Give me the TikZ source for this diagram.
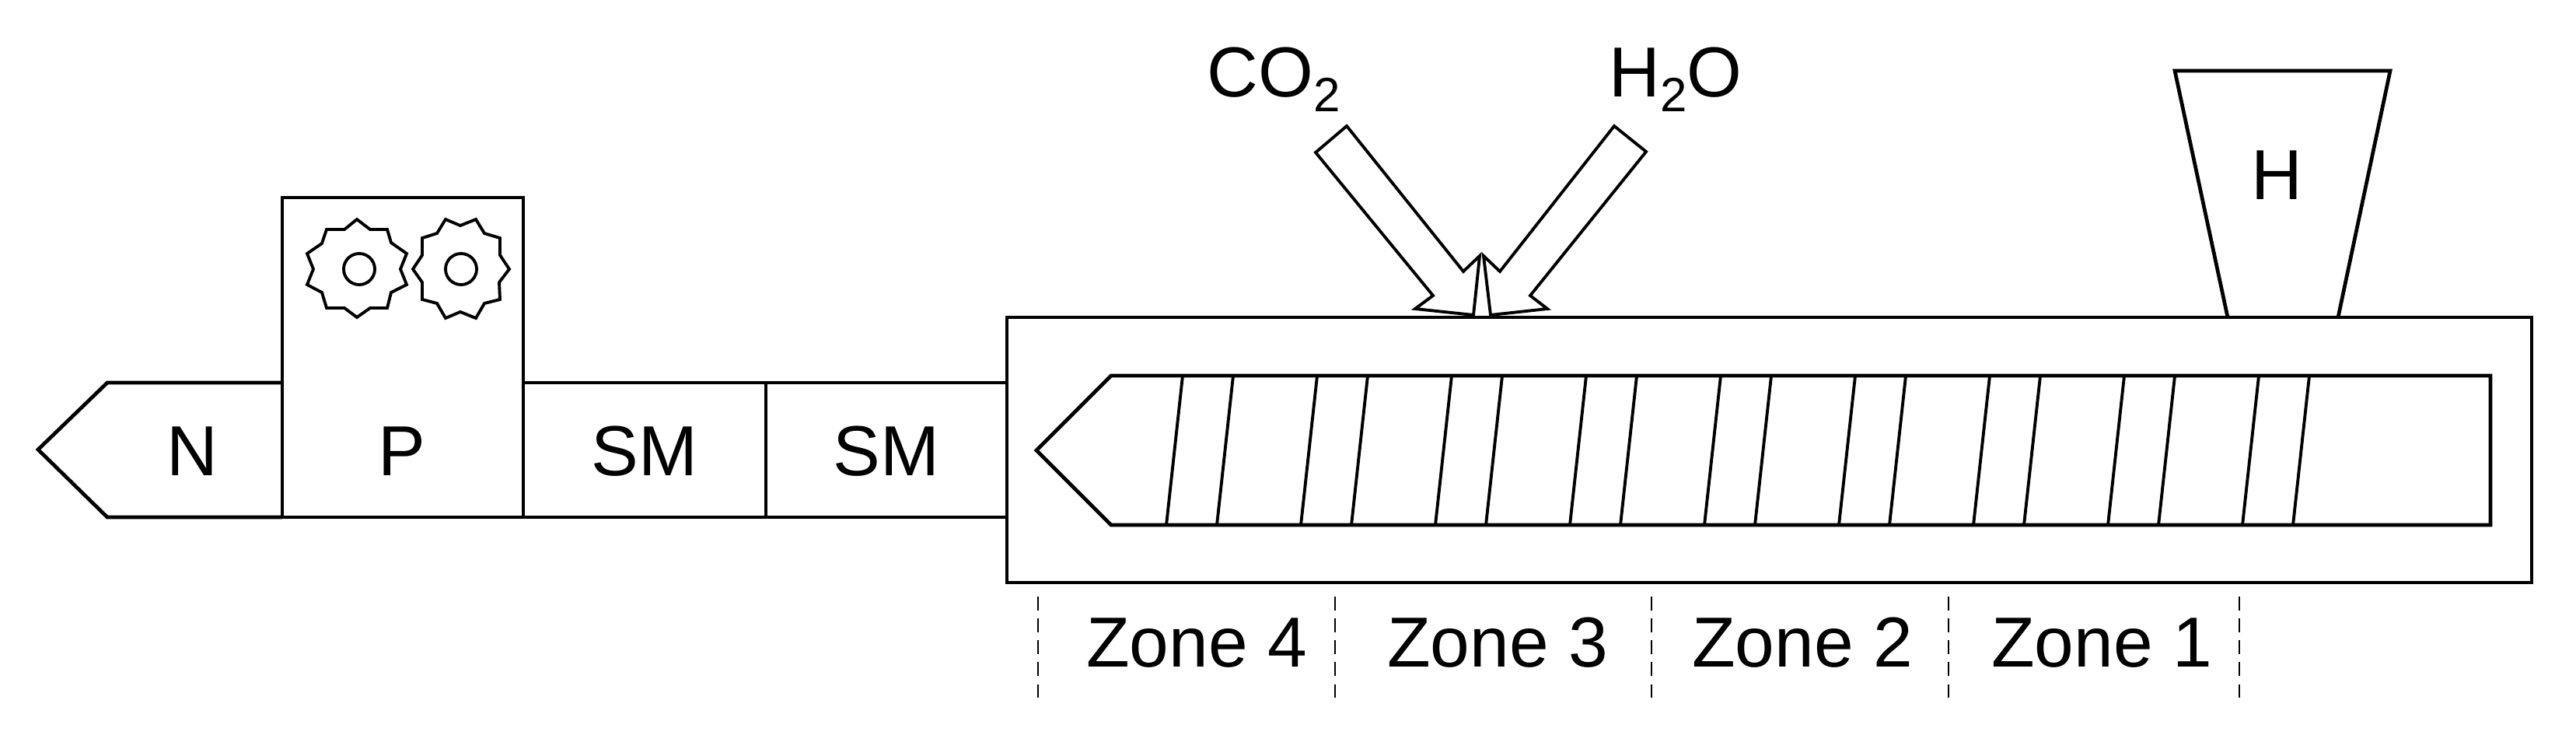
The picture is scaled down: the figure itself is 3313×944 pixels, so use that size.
\documentclass[tikz,border=0pt]{standalone}
\usepackage{fontspec}
\setmainfont{Liberation Sans}
\newcommand{\lowtwo}{\raisebox{-0.19cm}{\fontsize{17.6}{20}\selectfont 2}}
\tikzset{
    part/.style={line width=1.35pt, line join=miter},
    thin part/.style={line width=1.1pt, line join=miter},
    zone line/.style={line width=0.55pt, dash pattern=on 5pt off 3pt},
    caption/.style={anchor=base, inner sep=0, font=\fontsize{25.9}{30}\selectfont},
}

\begin{document}
\begin{tikzpicture}[x=0.01cm, y=-0.01cm]
    \useasboundingbox (0, 0) rectangle (3313, 944);
    \draw[part] (363, 492) -- (138, 492) -- (49, 578) -- (138, 665) -- (363, 665);
    \draw[part] (363, 254) rectangle (673, 665);
    \draw[part] (673, 492) rectangle (985, 665);
    \draw[part] (985, 492) rectangle (1295, 665);
    \node[caption] (nozzle) at (247, 611) {N};
    \node[caption] (pump) at (517, 611) {P};
    \node[caption] (mixer2) at (829, 611) {SM};
    \node[caption] (mixer1) at (1140, 611) {SM};
    \draw[thin part] (459, 282) -- (476, 295) -- (498, 295) -- (503, 312) -- (523, 326) -- (515, 346) -- (523, 366) -- (503, 376) -- (498, 396) -- (476, 396) -- (459, 408) -- (443, 396) -- (420, 396) -- (414, 376) -- (395, 366) -- (403, 346) -- (395, 326) -- (414, 313) -- (420, 295) -- (443, 295) -- cycle;
    \draw[thin part] (573, 282) -- (592, 290) -- (612, 282) -- (623, 300) -- (643, 306) -- (643, 328) -- (655, 346) -- (642, 363) -- (643, 385) -- (623, 390) -- (612, 409) -- (592, 401) -- (573, 409) -- (562, 390) -- (543, 385) -- (543, 363) -- (531, 346) -- (543, 328) -- (543, 306) -- (562, 300) -- cycle;
    \draw[thin part] (462, 346) circle (0.2cm);
    \draw[thin part] (593, 346) circle (0.2cm);
    \draw[part] (1295, 408) rectangle (3256, 749);
    \draw[part] (3203, 483) -- (1429, 483) -- (1333, 579) -- (1429, 675) -- (3203, 675) -- cycle;
    \draw[thin part] (1521, 483) -- (1500, 675);
    \draw[thin part] (1586, 483) -- (1565, 675);
    \draw[thin part] (1694, 483) -- (1673, 675);
    \draw[thin part] (1759, 483) -- (1738, 675);
    \draw[thin part] (1867, 483) -- (1846, 675);
    \draw[thin part] (1932, 483) -- (1911, 675);
    \draw[thin part] (2040, 483) -- (2019, 675);
    \draw[thin part] (2105, 483) -- (2084, 675);
    \draw[thin part] (2213, 483) -- (2192, 675);
    \draw[thin part] (2278, 483) -- (2257, 675);
    \draw[thin part] (2386, 483) -- (2365, 675);
    \draw[thin part] (2451, 483) -- (2430, 675);
    \draw[thin part] (2559, 483) -- (2538, 675);
    \draw[thin part] (2624, 483) -- (2603, 675);
    \draw[thin part] (2732, 483) -- (2711, 675);
    \draw[thin part] (2797, 483) -- (2776, 675);
    \draw[thin part] (2905, 483) -- (2884, 675);
    \draw[thin part] (2970, 483) -- (2949, 675);
    \draw[part] (2865, 408) -- (2797, 91) -- (3074, 91) -- (3007, 408);
    \node[caption] (hopper) at (2928, 256) {H};
    \draw[thin part] (1732, 162) -- (1882, 349) -- (1903, 329) -- (1895, 405) -- (1820, 397) -- (1843, 380) -- (1692, 196) -- cycle;
    \draw[thin part] (2076, 162) -- (1929, 349) -- (1908, 329) -- (1917, 405) -- (1990, 397) -- (1968, 380) -- (2117, 195) -- cycle;
    \node[caption] (co2) at (1638, 124) {CO\lowtwo};
    \node[caption] (h2o) at (2155, 124) {H\lowtwo O};
    \draw[zone line] (1335, 767) -- (1335, 897);
    \draw[zone line] (1717, 767) -- (1717, 897);
    \draw[zone line] (2124, 767) -- (2124, 897);
    \draw[zone line] (2506, 767) -- (2506, 897);
    \draw[zone line] (2880, 767) -- (2880, 897);
    \node[caption] (zone4) at (1539, 857) {Zone 4};
    \node[caption] (zone3) at (1926, 857) {Zone 3};
    \node[caption] (zone2) at (2318, 857) {Zone 2};
    \node[caption] (zone1) at (2703, 857) {Zone 1};
\end{tikzpicture}
\end{document}
